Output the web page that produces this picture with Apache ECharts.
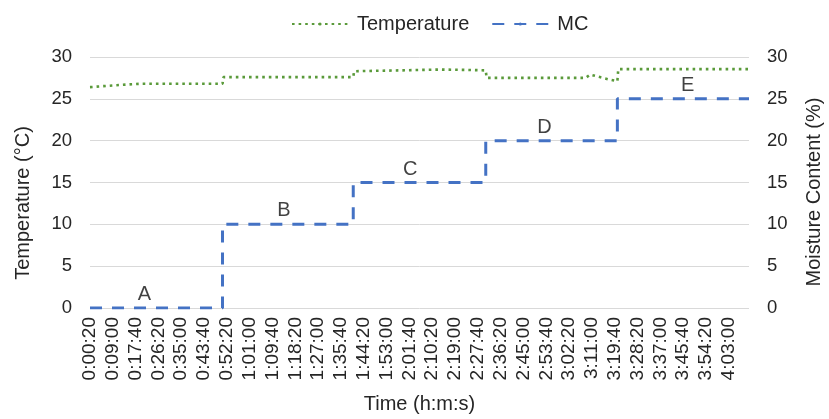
<!DOCTYPE html>
<html>
<head>
<meta charset="utf-8">
<script src="https://cdn.jsdelivr.net/npm/echarts@6/dist/echarts.min.js"></script>
<style>
html,body{margin:0;padding:0;background:#fff;}
#chart{width:829px;height:419px;}
</style>
</head>
<body>
<div id="chart"></div>
<script>
// ---- data ----
var tickLabels = ['0:00:20','0:09:00','0:17:40','0:26:20','0:35:00','0:43:40','0:52:20','1:01:00','1:09:40','1:18:20','1:27:00','1:35:40','1:44:20','1:53:00','2:01:40','2:10:20','2:19:00','2:27:40','2:36:20','2:45:00','2:53:40','3:02:20','3:11:00','3:19:40','3:28:20','3:37:00','3:45:40','3:54:20','4:03:00'];
var startTime = '0:00:20';
var endTime = '4:10:40';

var tempTimes  = ['0:00:20','0:09:00','0:19:20','0:50:40','0:51:00','1:40:20','1:40:40','1:58:00','2:13:20','2:24:40','2:30:40','2:31:00','3:08:40','3:10:20','3:11:00','3:14:00','3:17:40','3:20:40','3:21:00','4:10:40'];
var tempValues = [26.4, 26.6, 26.8, 26.8, 27.6, 27.6, 28.3, 28.4, 28.5, 28.45, 28.4, 27.5, 27.5, 27.9, 27.7, 27.6, 27.3, 27.1, 28.55, 28.55];

var mcTimes  = ['0:00:20','0:50:40','0:50:40','1:40:20','1:40:20','2:30:40','2:30:40','3:20:40','3:20:40','4:10:40'];
var mcValues = [0, 0, 10, 10, 15, 15, 20, 20, 25, 25];

var stageNames  = ['A','B','C','D','E'];
var stageTimes  = ['0:21:00','1:14:00','2:02:00','2:53:00','3:47:20'];
var stageLevels = [0, 10, 15, 20, 25];

// ---- helpers ----
function toSec(t){ var p=t.split(':').map(Number); return p[0]*3600+p[1]*60+p[2]; }
var t0 = toSec(startTime);
var stepSec = toSec(tickLabels[1]) - toSec(tickLabels[0]);
function pairs(times, vals){ return times.map(function(t,i){ return [toSec(t)-t0, vals[i]]; }); }

var FONT = "'Liberation Sans', Arial, sans-serif";
var TXT = '#262626';

var chart = echarts.init(document.getElementById('chart'), null, {renderer:'canvas'});
chart.setOption({
  animation:false,
  backgroundColor:'#fff',
  textStyle:{fontFamily:FONT},
  legend:{
    data:['Temperature','MC'],
    top:9, left:286,
    itemWidth:56, itemHeight:4, itemGap:22,
    textStyle:{fontSize:20, color:TXT, fontFamily:FONT, padding:[0,0,0,4]}
  },
  grid:{left:90, right:80, top:57, height:252},
  xAxis:{
    type:'value', min:0, max:toSec(endTime)-t0, interval:stepSec,
    name:'Time (h:m:s)', nameLocation:'middle', nameGap:86,
    nameTextStyle:{fontSize:20, color:TXT, fontFamily:FONT},
    axisLine:{show:false}, axisTick:{show:false}, splitLine:{show:false},
    axisLabel:{rotate:90, margin:9, fontSize:19, color:TXT, fontFamily:FONT,
      formatter:function(v){ var i=Math.round(v/stepSec); return (Math.abs(v-i*stepSec)<1e-6 && i<tickLabels.length)? tickLabels[i] : ''; }}
  },
  yAxis:[
    {type:'value', min:0, max:30, interval:5, position:'left',
     axisLine:{show:false}, axisTick:{show:false},
     splitLine:{lineStyle:{color:'#D9D9D9', width:1}},
     axisLabel:{margin:18, fontSize:18.5, color:TXT, fontFamily:FONT}},
    {type:'value', min:0, max:30, interval:5, position:'right',
     axisLine:{show:false}, axisTick:{show:false}, splitLine:{show:false},
     axisLabel:{margin:18, fontSize:18.5, color:TXT, fontFamily:FONT}}
  ],
  graphic:[
    {type:'text', x:23, y:203, rotation:Math.PI/2,
     style:{text:'Temperature (°C)', font:"20px 'Liberation Sans', Arial, sans-serif", fill:TXT, align:'center', verticalAlign:'middle'}},
    {type:'text', x:814, y:192, rotation:Math.PI/2,
     style:{text:'Moisture Content (%)', font:"20px 'Liberation Sans', Arial, sans-serif", fill:TXT, align:'center', verticalAlign:'middle'}}
  ],
  series:[
    {name:'Temperature', type:'line', yAxisIndex:0, symbol:'none',
     data:pairs(tempTimes, tempValues),
     lineStyle:{color:'#5A9A3A', width:2.6, type:[2.6,4]},
     itemStyle:{color:'#5A9A3A'}, z:3},
    {name:'MC', type:'line', yAxisIndex:1, symbol:'none',
     data:pairs(mcTimes, mcValues),
     lineStyle:{color:'#4472C4', width:3, type:[12,10]},
     itemStyle:{color:'#4472C4'}, z:2},
    {name:'stages', type:'scatter', yAxisIndex:1, symbolSize:0, silent:true,
     data:stageTimes.map(function(t,i){ return {name:stageNames[i], value:[toSec(t)-t0, stageLevels[i]]}; }),
     label:{show:true, position:'inside', offset:[0,-13.5], formatter:'{b}', fontSize:20, color:'#111', fontFamily:FONT},
     z:4}
  ]
});
</script>
</body>
</html>
